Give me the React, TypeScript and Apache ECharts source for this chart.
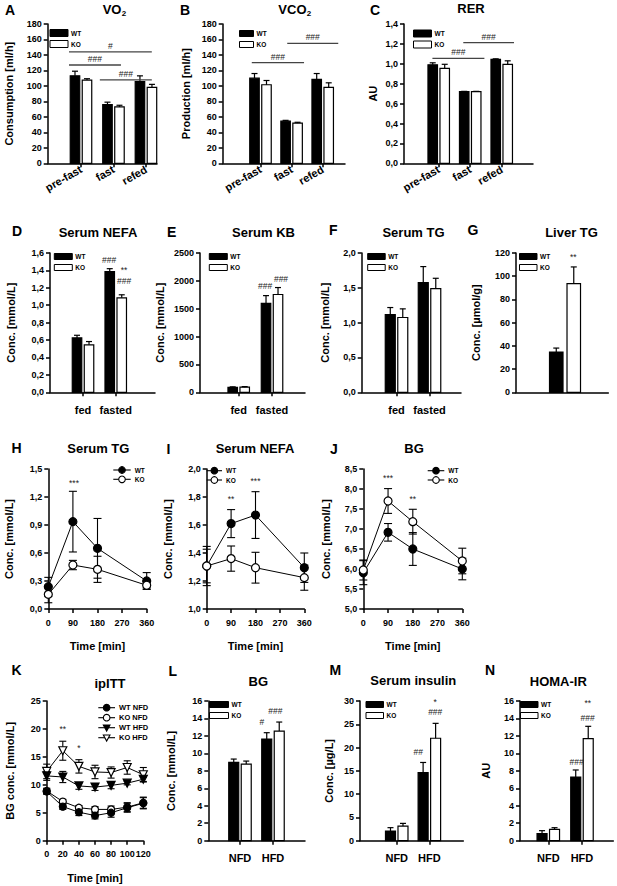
import React, { useEffect, useRef } from "react";
import * as echarts from "echarts";

const FONT = "'Liberation Sans', Arial, Helvetica, sans-serif";

// ---------------- DATA ----------------
// Row 1: respiration
const catsResp = ["pre-fast", "fast", "refed"];
const vo2WT = [113, 76, 105.5];
const vo2WTErr = [6, 3, 7.5];
const vo2KO = [107.5, 73, 98];
const vo2KOErr = [1.8, 2, 4];
const vo2Brackets = [[0.63, 3.18, 144], [0.63, 2.23, 127], [1.58, 3.18, 107.7]];
const vo2BracketLabels = ["#", "###", "###"];

const vco2WT = [110, 54.5, 108.5];
const vco2WTErr = [6, 1, 7.5];
const vco2KO = [101.5, 52, 98];
const vco2KOErr = [5.5, 1, 6];
const vco2Brackets = [[0.72, 2.4, 130], [1.86, 3.5, 155]];
const vco2BracketLabels = ["###", "###"];

const rerWT = [0.99, 0.72, 1.045];
const rerWTErr = [0.02, 0.003, 0.005];
const rerKO = [0.955, 0.72, 0.995];
const rerKOErr = [0.04, 0.003, 0.035];
const rerBrackets = [[0.8, 2.45, 1.055], [1.78, 3.39, 1.212]];
const rerBracketLabels = ["###", "###"];

// Row 2: fed / fasted
const catsFeed = ["fed", "fasted"];
const nefaWT = [0.625, 1.385];
const nefaWTErr = [0.03, 0.035];
const nefaKO = [0.545, 1.085];
const nefaKOErr = [0.038, 0.035];
const nefaMarks = [[1.795, 1.52], [2.254, 1.404], [2.254, 1.273]];
const nefaMarkLabels = ["###", "**", "###"];

const kbWT = [90, 1595];
const kbWTErr = [8, 140];
const kbKO = [92, 1755];
const kbKOErr = [10, 125];
const kbMarks = [[1.79, 1903], [2.27, 2028]];
const kbMarkLabels = ["###", "###"];

const tgWT = [1.117, 1.575];
const tgWTErr = [0.1, 0.23];
const tgKO = [1.074, 1.489];
const tgKOErr = [0.124, 0.148];

const catsLiver = [""];
const liverWT = [34.7];
const liverWTErr = [3.4];
const liverKO = [93.7];
const liverKOErr = [14.3];
const liverMarks = [[1.18, 116.6]];
const liverMarkLabels = ["**"];

// Row 3: time courses
const timeCourse = [0, 90, 180, 360];
const sTgWT = [0.239, 0.936, 0.65, 0.3];
const sTgWTErr = [0.1, 0.325, 0.32, 0.09];
const sTgKO = [0.157, 0.471, 0.425, 0.254];
const sTgKOErr = [0.09, 0.05, 0.14, 0.04];
const sTgMarks = [[94, 1.347]];
const sTgMarkLabels = ["***"];

const sNefaWT = [1.307, 1.61, 1.671, 1.295];
const sNefaWTErr = [0.14, 0.1, 0.167, 0.105];
const sNefaKO = [1.307, 1.36, 1.295, 1.224];
const sNefaKOErr = [0.12, 0.09, 0.11, 0.09];
const sNefaMarks = [[90, 1.784], [180, 1.914]];
const sNefaMarkLabels = ["**", "***"];

const bgWT = [5.908, 6.917, 6.5, 6.0];
const bgWTErr = [0.3, 0.22, 0.41, 0.27];
const bgKO = [5.975, 7.7, 7.183, 6.2];
const bgKOErr = [0.25, 0.31, 0.31, 0.32];
const bgMarks = [[90, 8.28], [180, 7.75]];
const bgMarkLabels = ["***", "**"];

// Row 4
const timeITT = [0, 20, 40, 60, 80, 100, 120];
const ittWTNFD = [8.8, 6.1, 5.1, 4.5, 5.0, 5.9, 6.7];
const ittWTNFDErr = [0.5, 0.5, 0.6, 0.6, 0.8, 0.8, 1.0];
const ittKONFD = [8.9, 7.0, 5.9, 5.6, 5.6, 6.0, 6.8];
const ittKONFDErr = [0.5, 0.4, 0.4, 0.5, 0.6, 0.8, 1.0];
const ittWTHFD = [11.6, 11.4, 9.8, 9.6, 9.9, 10.3, 11.0];
const ittWTHFDErr = [0.8, 1.0, 0.6, 0.6, 0.6, 0.3, 0.4];
const ittKOHFD = [12.4, 16.1, 13.3, 12.3, 12.2, 13.1, 11.8];
const ittKOHFDErr = [1.3, 1.7, 1.2, 1.2, 1.0, 1.2, 1.3];
const ittMarks = [[20, 19.9], [40, 16.5]];
const ittMarkLabels = ["**", "*"];

const catsDiet = ["NFD", "HFD"];
const dietBgWT = [8.97, 11.64];
const dietBgWTErr = [0.38, 0.73];
const dietBgKO = [8.78, 12.56];
const dietBgKOErr = [0.34, 1.03];
const dietBgMarks = [[1.66, 13.6], [2.07, 14.86]];
const dietBgMarkLabels = ["#", "###"];

const insWT = [2.08, 14.6];
const insWTErr = [0.72, 2.2];
const insKO = [3.15, 22.0];
const insKOErr = [0.57, 3.2];
const insMarks = [[1.66, 19.1], [2.18, 29.85], [2.18, 27.7]];
const insMarkLabels = ["##", "*", "###"];

const homaWT = [0.8, 7.29];
const homaWTErr = [0.35, 0.81];
const homaKO = [1.3, 11.68];
const homaKOErr = [0.19, 1.42];
const homaMarks = [[1.84, 9.05], [2.17, 15.74], [2.17, 14.0]];
const homaMarkLabels = ["###", "**", "###"];

// ---------------- BUILD ----------------
function buildOption() {
  const grid: any[] = [];
  const xAxis: any[] = [];
  const yAxis: any[] = [];
  const series: any[] = [];
  const elements: any[] = [];

  const axisLine = { show: true, onZero: false, lineStyle: { color: "#000", width: 1.5 } };
  const axisTick = { show: true, length: 4, inside: false, lineStyle: { color: "#000", width: 1.5 } };
  const tickLabel = { color: "#000", fontSize: 9, fontWeight: "bold", fontFamily: FONT };
  const nameStyle = { color: "#000", fontSize: 11, fontWeight: "bold", fontFamily: FONT };

  const addGrid = (g: number[]) => {
    grid.push({ left: g[0], top: g[1], width: g[2], height: g[3], containLabel: false });
    return grid.length - 1;
  };

  const yAx = (idx: number, min: number, max: number, interval: number, dec: number, name: string, gap: number) => {
    yAxis.push({
      type: "value", gridIndex: idx, min, max, interval,
      axisLine, axisTick, splitLine: { show: false },
      axisLabel: { ...tickLabel, margin: 6, formatter: (v: number) => v.toFixed(dec).replace(".", ",") },
      name, nameLocation: "middle", nameGap: gap, nameRotate: 90, nameTextStyle: nameStyle,
    });
  };

  const xCat = (idx: number, min: number, max: number, cats: string[], rotate: boolean) => {
    const vals = cats.map((_, i) => i + 1);
    const has = cats[0] !== "";
    xAxis.push({
      type: "value", gridIndex: idx, min, max,
      axisLine, splitLine: { show: false },
      axisTick: has ? { ...axisTick, customValues: vals } : { show: false },
      axisLabel: has
        ? {
            ...tickLabel, fontSize: 11, rotate: rotate ? 30 : 0, margin: rotate ? 5 : 12,
            customValues: vals, formatter: (v: number) => cats[Math.round(v) - 1] ?? "",
          }
        : { show: false },
    });
  };

  const xTime = (idx: number, max: number, interval: number, gap: number) => {
    xAxis.push({
      type: "value", gridIndex: idx, min: 0, max, interval,
      axisLine, axisTick, splitLine: { show: false },
      axisLabel: { ...tickLabel, margin: 9 },
      name: "Time [min]", nameLocation: "middle", nameGap: gap, nameTextStyle: nameStyle,
    });
  };

  const barSeries = (idx: number, cats: string[], wt: number[], wtE: number[], ko: number[], koE: number[], barW: number, gap: number) => {
    series.push({
      type: "custom", coordinateSystem: "cartesian2d", xAxisIndex: idx, yAxisIndex: idx, silent: true, clip: false,
      data: cats.map((_, i) => [i + 1, wt[i], wtE[i], ko[i], koE[i]]),
      renderItem: (_p: any, api: any) => {
        const pos = api.value(0);
        const base = api.coord([pos, 0]);
        const cx = base[0], y0 = base[1];
        const children: any[] = [];
        const draw = (val: number, err: number, side: number, fill: string) => {
          const left = side < 0 ? cx - gap / 2 - barW : cx + gap / 2;
          const top = api.coord([pos, val])[1];
          const et = api.coord([pos, val + err])[1];
          const mid = left + barW / 2;
          children.push({ type: "rect", shape: { x: left, y: top, width: barW, height: y0 - top }, style: { fill, stroke: "#000", lineWidth: 1.2 } });
          children.push({ type: "line", shape: { x1: mid, y1: top, x2: mid, y2: et }, style: { stroke: "#000", lineWidth: 1.2 } });
          children.push({ type: "line", shape: { x1: mid - 3, y1: et, x2: mid + 3, y2: et }, style: { stroke: "#000", lineWidth: 1.2 } });
        };
        draw(api.value(1), api.value(2), -1, "#000");
        draw(api.value(3), api.value(4), 1, "#fff");
        return { type: "group", children };
      },
    });
  };

  const bracketSeries = (idx: number, segs: number[][], labels: string[]) => {
    series.push({
      type: "custom", coordinateSystem: "cartesian2d", xAxisIndex: idx, yAxisIndex: idx, silent: true, clip: false,
      data: segs,
      renderItem: (p: any, api: any) => {
        const a = api.coord([api.value(0), api.value(2)]);
        const b = api.coord([api.value(1), api.value(2)]);
        return {
          type: "group",
          children: [
            { type: "line", shape: { x1: a[0], y1: a[1], x2: b[0], y2: b[1] }, style: { stroke: "#444", lineWidth: 1.3 } },
            {
              type: "text",
              style: {
                text: labels[p.dataIndex], x: (a[0] + b[0]) / 2, y: a[1] - 1.5,
                align: "center", verticalAlign: "bottom", textAlign: "center", textVerticalAlign: "bottom",
                fontSize: 8.5, fontFamily: FONT, fill: "#222",
              },
            },
          ],
        };
      },
    });
  };

  const markSeries = (idx: number, pts: number[][], labels: string[]) => {
    series.push({
      type: "custom", coordinateSystem: "cartesian2d", xAxisIndex: idx, yAxisIndex: idx, silent: true, clip: false,
      data: pts, z: 5,
      renderItem: (p: any, api: any) => {
        const c = api.coord([api.value(0), api.value(1)]);
        return {
          type: "text",
          style: {
            text: labels[p.dataIndex], x: c[0], y: c[1],
            align: "center", verticalAlign: "middle", textAlign: "center", textVerticalAlign: "middle",
            fontSize: 8.5, fontFamily: FONT, fill: "#222",
          },
        };
      },
    });
  };

  const lineSeries = (idx: number, xs: number[], ys: number[], es: number[], symbol: string, filled: boolean, size: number, cap: number, rotate = 0) => {
    series.push({
      type: "custom", coordinateSystem: "cartesian2d", xAxisIndex: idx, yAxisIndex: idx, silent: true, clip: false, z: 2,
      data: xs.map((x, i) => [x, ys[i], es[i]]),
      renderItem: (_p: any, api: any) => {
        const x = api.value(0), y = api.value(1), e = api.value(2);
        const t = api.coord([x, y + e]);
        const b = api.coord([x, y - e]);
        const st = { stroke: "#000", lineWidth: 1.1 };
        return {
          type: "group",
          children: [
            { type: "line", shape: { x1: t[0], y1: t[1], x2: b[0], y2: b[1] }, style: st },
            { type: "line", shape: { x1: t[0] - cap, y1: t[1], x2: t[0] + cap, y2: t[1] }, style: st },
            { type: "line", shape: { x1: b[0] - cap, y1: b[1], x2: b[0] + cap, y2: b[1] }, style: st },
          ],
        };
      },
    });
    series.push({
      type: "line", xAxisIndex: idx, yAxisIndex: idx, silent: true, z: 3,
      data: xs.map((x, i) => [x, ys[i]]),
      symbol, symbolSize: size, symbolRotate: rotate, showAllSymbol: true,
      lineStyle: { color: "#000", width: 1 },
      itemStyle: { color: filled ? "#000" : "#fff", borderColor: "#000", borderWidth: 1.2 },
    });
  };

  // ---- graphics helpers ----
  const txt = (x: number, y: number, text: string, size: number, align = "center", weight = "bold") => {
    elements.push({
      type: "text", x, y, silent: true,
      style: {
        text, fontSize: size, fontWeight: weight, fontFamily: FONT, fill: "#000",
        align, verticalAlign: "middle", textAlign: align, textVerticalAlign: "middle",
      },
    });
  };
  const barLegend = (x: number, y: number, w = 18, h = 6.5, size = 6.5) => {
    elements.push({ type: "rect", silent: true, shape: { x, y, width: w, height: h }, style: { fill: "#000", stroke: "#000", lineWidth: 1 } });
    elements.push({ type: "rect", silent: true, shape: { x, y: y + 11, width: w, height: h }, style: { fill: "#fff", stroke: "#000", lineWidth: 1 } });
    txt(x + w + 3, y + h / 2, "WT", size, "left");
    txt(x + w + 3, y + 11 + h / 2, "KO", size, "left");
  };
  const marker = (cx: number, cy: number, kind: string, filled: boolean, r: number) => {
    const style = { fill: filled ? "#000" : "#fff", stroke: "#000", lineWidth: 1.1 };
    if (kind === "circle") {
      elements.push({ type: "circle", silent: true, shape: { cx, cy, r }, style });
    } else {
      elements.push({ type: "polygon", silent: true, shape: { points: [[cx - r, cy - r * 0.8], [cx + r, cy - r * 0.8], [cx, cy + r]] }, style });
    }
  };
  const lineLegend = (x1: number, x2: number, ys: number[], labels: string[], kinds: string[], filled: boolean[], r: number, size: number) => {
    ys.forEach((y, i) => {
      elements.push({ type: "line", silent: true, shape: { x1, y1: y, x2, y2: y }, style: { stroke: "#000", lineWidth: 1.1 } });
      marker((x1 + x2) / 2, y, kinds[i], filled[i], r);
      txt(x2 + 4, y, labels[i], size, "left");
    });
  };

  // ---------------- Panels ----------------
  // A
  let g = addGrid([47.7, 24, 109.3, 139.3]);
  xCat(g, -0.025, 3.34, catsResp, true);
  yAx(g, 0, 180, 20, 0, "Consumption [ml/h]", 33);
  barSeries(g, catsResp, vo2WT, vo2WTErr, vo2KO, vo2KOErr, 9.5, 2.5);
  bracketSeries(g, vo2Brackets, vo2BracketLabels);
  barLegend(50, 29.5, 18, 7);

  // B
  g = addGrid([222.7, 24, 122.3, 139.3]);
  xCat(g, -0.215, 3.717, catsResp, true);
  yAx(g, 0, 180, 20, 0, "Production [ml/h]", 31);
  barSeries(g, catsResp, vco2WT, vco2WTErr, vco2KO, vco2KOErr, 9.5, 2.5);
  bracketSeries(g, vco2Brackets, vco2BracketLabels);
  barLegend(239.5, 30.5, 14, 6);

  // C
  g = addGrid([404, 24, 129, 139.3]);
  xCat(g, -0.102, 3.993, catsResp, true);
  yAx(g, 0, 1.4, 0.2, 1, "AU", 26);
  barSeries(g, catsResp, rerWT, rerWTErr, rerKO, rerKOErr, 9.5, 2.5);
  bracketSeries(g, rerBrackets, rerBracketLabels);
  barLegend(413.5, 30, 18, 7);

  // D
  g = addGrid([50, 253, 105, 139.3]);
  xCat(g, -0.009, 3.2, catsFeed, false);
  yAx(g, 0, 1.6, 0.2, 1, "Conc. [mmol/L]", 34);
  barSeries(g, catsFeed, nefaWT, nefaWTErr, nefaKO, nefaKOErr, 9.5, 2.5);
  markSeries(g, nefaMarks, nefaMarkLabels);
  barLegend(54.3, 253.5, 18, 6);

  // E
  g = addGrid([200, 253, 105, 139.3]);
  xCat(g, -0.162, 2.99, catsFeed, false);
  yAx(g, 0, 2500, 500, 0, "Conc. [mmol/L]", 35);
  barSeries(g, catsFeed, kbWT, kbWTErr, kbKO, kbKOErr, 9.5, 2.5);
  markSeries(g, kbMarks, kbMarkLabels);
  barLegend(209.3, 253.5, 18, 6);

  // F
  g = addGrid([361.7, 253, 99.3, 139.3]);
  xCat(g, -0.055, 2.954, catsFeed, false);
  yAx(g, 0, 2, 0.5, 1, "Conc. [mmol/L]", 31);
  barSeries(g, catsFeed, tgWT, tgWTErr, tgKO, tgKOErr, 10, 2.5);
  barLegend(367.7, 253.5, 17.5, 6);

  // G
  g = addGrid([516, 253, 92.3, 139.3]);
  xCat(g, -0.062, 1.938, catsLiver, false);
  yAx(g, 0, 120, 20, 0, "Conc. [µmol/g]", 35);
  barSeries(g, catsLiver, liverWT, liverWTErr, liverKO, liverKOErr, 13.5, 4);
  markSeries(g, liverMarks, liverMarkLabels);
  barLegend(519.5, 253.5, 17.5, 6);

  // H
  g = addGrid([48.3, 469, 98.4, 140]);
  xTime(g, 360, 90, 31);
  yAx(g, 0, 1.5, 0.3, 1, "Conc. [mmol/L]", 34);
  lineSeries(g, timeCourse, sTgWT, sTgWTErr, "circle", true, 8, 4);
  lineSeries(g, timeCourse, sTgKO, sTgKOErr, "circle", false, 8, 4);
  markSeries(g, sTgMarks, sTgMarkLabels);
  lineLegend(113.3, 130.7, [470, 479.3], ["WT", "KO"], ["circle", "circle"], [true, false], 3.3, 6.5);

  // I
  g = addGrid([206.7, 469, 97.6, 140]);
  xTime(g, 360, 90, 31);
  yAx(g, 1, 2, 0.2, 1, "Conc. [mmol/L]", 33);
  lineSeries(g, timeCourse, sNefaWT, sNefaWTErr, "circle", true, 8, 4);
  lineSeries(g, timeCourse, sNefaKO, sNefaKOErr, "circle", false, 8, 4);
  markSeries(g, sNefaMarks, sNefaMarkLabels);
  lineLegend(206.7, 222, [470.7, 480], ["WT", "KO"], ["circle", "circle"], [true, false], 3.3, 6.5);

  // J
  g = addGrid([363.3, 469, 99, 140]);
  xTime(g, 360, 90, 31);
  yAx(g, 5, 8.5, 0.5, 1, "Conc. [mmol/L]", 32);
  lineSeries(g, timeCourse, bgWT, bgWTErr, "circle", true, 8, 4);
  lineSeries(g, timeCourse, bgKO, bgKOErr, "circle", false, 8, 4);
  markSeries(g, bgMarks, bgMarkLabels);
  lineLegend(427.7, 444.3, [470.7, 480], ["WT", "KO"], ["circle", "circle"], [true, false], 3.3, 6.5);

  // K
  g = addGrid([46.7, 701, 96.6, 139.7]);
  xTime(g, 120, 20, 32);
  yAx(g, 0, 25, 5, 0, "BG conc. [mmol/L]", 31);
  lineSeries(g, timeITT, ittKOHFD, ittKOHFDErr, "triangle", false, 8, 3.5, 180);
  lineSeries(g, timeITT, ittWTHFD, ittWTHFDErr, "triangle", true, 8, 3.5, 180);
  lineSeries(g, timeITT, ittKONFD, ittKONFDErr, "circle", false, 7, 3.5);
  lineSeries(g, timeITT, ittWTNFD, ittWTNFDErr, "circle", true, 7, 3.5);
  markSeries(g, ittMarks, ittMarkLabels);
  lineLegend(98.3, 115, [707.7, 717.7, 727.7, 737.7], ["WT NFD", "KO NFD", "WT HFD", "KO HFD"],
    ["circle", "circle", "tri", "tri"], [true, false, true, false], 3.3, 7.5);

  // L
  g = addGrid([208.3, 701, 96.7, 139.7]);
  xCat(g, 0.04, 2.97, catsDiet, false);
  yAx(g, 0, 16, 2, 0, "Conc. [mmol/L]", 32);
  barSeries(g, catsDiet, dietBgWT, dietBgWTErr, dietBgKO, dietBgKOErr, 10, 2.5);
  markSeries(g, dietBgMarks, dietBgMarkLabels);
  barLegend(209.5, 701.5, 19, 6);

  // M
  g = addGrid([360, 701, 103.3, 139.7]);
  xCat(g, -0.126, 3.04, catsDiet, false);
  yAx(g, 0, 30, 5, 0, "Conc. [µg/L]", 26);
  barSeries(g, catsDiet, insWT, insWTErr, insKO, insKOErr, 10, 2.5);
  markSeries(g, insMarks, insMarkLabels);
  barLegend(366, 701.5, 17.5, 6);

  // N
  g = addGrid([520, 701, 93.3, 139.7]);
  xCat(g, 0.16, 2.93, catsDiet, false);
  yAx(g, 0, 16, 2, 0, "AU", 29);
  barSeries(g, catsDiet, homaWT, homaWTErr, homaKO, homaKOErr, 10, 2.5);
  markSeries(g, homaMarks, homaMarkLabels);
  barLegend(520.5, 701.5, 17.5, 6);

  // ---- panel letters ----
  const letters: [string, number, number][] = [
    ["A", 5, 9.5], ["B", 180, 9.5], ["C", 370, 10],
    ["D", 12, 231], ["E", 167, 231.5], ["F", 329, 230], ["G", 467.5, 230],
    ["H", 11.5, 448], ["I", 166.5, 449], ["J", 330, 449],
    ["K", 11.5, 670], ["L", 168.5, 671], ["M", 329.5, 670], ["N", 485, 670],
  ];
  letters.forEach(([t, x, y]) => txt(x, y, t, 14, "left"));

  // ---- titles ----
  txt(121.5, 9.5, "VO", 13, "right");
  txt(121.8, 13, "2", 8, "left");
  txt(306.5, 9.5, "VCO", 13, "right");
  txt(306.8, 13, "2", 8, "left");
  const titles: [string, number, number][] = [
    ["RER", 471, 8.5],
    ["Serum NEFA", 98, 232], ["Serum KB", 263.5, 232], ["Serum TG", 413.5, 232], ["Liver TG", 571.5, 232],
    ["Serum TG", 98.3, 448.3], ["Serum NEFA", 255, 448], ["BG", 414, 448],
    ["ipITT", 110, 683.3], ["BG", 258.3, 681.7], ["Serum insulin", 413.3, 680.7], ["HOMA-IR", 558.3, 681.7],
  ];
  titles.forEach(([t, x, y]) => txt(x, y, t, 13, "center"));

  return {
    animation: false,
    backgroundColor: "#fff",
    textStyle: { fontFamily: FONT },
    grid, xAxis, yAxis, series,
    graphic: { elements },
  };
}

export default function App() {
  const ref = useRef<HTMLDivElement>(null);
  useEffect(() => {
    const chart = echarts.init(ref.current!, null, { renderer: "svg" });
    chart.setOption(buildOption() as any);
    return () => chart.dispose();
  }, []);
  return (
    <div
      ref={ref}
      style={{ position: "fixed", left: 0, top: 0, width: 617, height: 886, background: "#fff" }}
    />
  );
}
